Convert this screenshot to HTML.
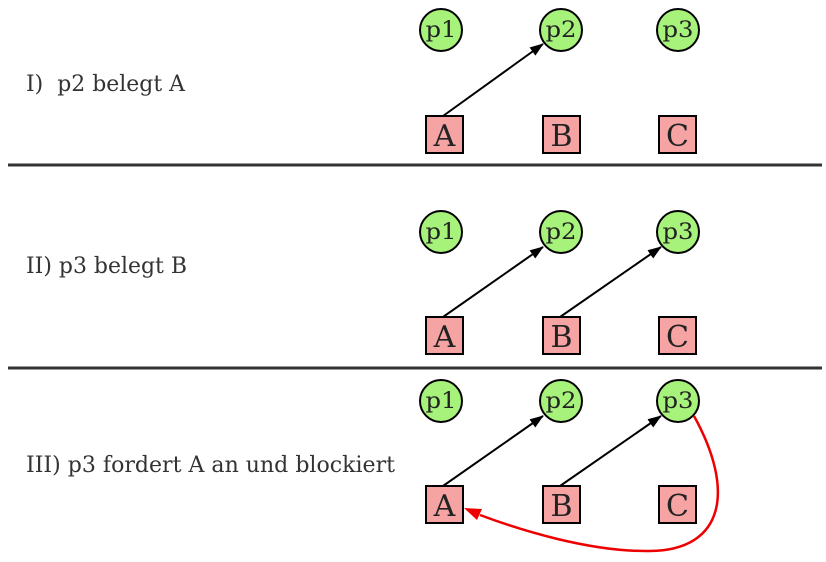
<!DOCTYPE html>
<html><head><style>
html,body{margin:0;padding:0;background:#fff;}
svg{display:block}
text{font-family:"DejaVu Serif","Liberation Serif",serif;}
</style></head><body>
<svg width="826" height="562" viewBox="0 0 826 562" xmlns="http://www.w3.org/2000/svg">
<defs>
<marker id="ab" markerWidth="14" markerHeight="10" refX="13" refY="5" orient="auto" markerUnits="userSpaceOnUse"><path d="M0,0 L14,5 L0,10 Z" fill="#000"/></marker>
<g id="procs">
<circle cx="441" cy="0" r="21" fill="#a6f27a" stroke="#000" stroke-width="2"/>
<circle cx="561" cy="0" r="21" fill="#a6f27a" stroke="#000" stroke-width="2"/>
<circle cx="678" cy="0" r="21" fill="#a6f27a" stroke="#000" stroke-width="2"/>
<text x="441" y="7" font-size="22" text-anchor="middle" fill="#222" textLength="31" lengthAdjust="spacingAndGlyphs">p1</text>
<text x="561" y="7" font-size="22" text-anchor="middle" fill="#222" textLength="31" lengthAdjust="spacingAndGlyphs">p2</text>
<text x="678" y="7" font-size="22" text-anchor="middle" fill="#222" textLength="31" lengthAdjust="spacingAndGlyphs">p3</text>
</g>
<g id="res">
<rect x="426" y="-19" width="37" height="37" fill="#f5a3a3" stroke="#000" stroke-width="2"/>
<rect x="543" y="-19" width="37" height="37" fill="#f5a3a3" stroke="#000" stroke-width="2"/>
<rect x="659" y="-19" width="37" height="37" fill="#f5a3a3" stroke="#000" stroke-width="2"/>
<text x="444.5" y="11" font-size="30" text-anchor="middle" fill="#222">A</text>
<text x="561.5" y="11" font-size="30" text-anchor="middle" fill="#222">B</text>
<text x="677.5" y="11" font-size="30" text-anchor="middle" fill="#222">C</text>
</g>
</defs>
<use href="#procs" y="30"/>
<use href="#res" y="135"/>
<line x1="443" y1="116" x2="543" y2="44" stroke="#000" stroke-width="2" marker-end="url(#ab)"/>
<text x="26" y="91" font-size="22" fill="#333" xml:space="preserve" textLength="159" lengthAdjust="spacingAndGlyphs">I)  p2 belegt A</text>
<line x1="8" y1="165" x2="822" y2="165" stroke="#333" stroke-width="3"/>
<use href="#procs" y="232"/>
<use href="#res" y="336"/>
<line x1="443" y1="317" x2="543" y2="247" stroke="#000" stroke-width="2" marker-end="url(#ab)"/>
<line x1="560" y1="317" x2="661" y2="247" stroke="#000" stroke-width="2" marker-end="url(#ab)"/>
<text x="26" y="273" font-size="22" fill="#333" textLength="161" lengthAdjust="spacingAndGlyphs">II) p3 belegt B</text>
<line x1="8" y1="368" x2="822" y2="368" stroke="#333" stroke-width="3"/>
<use href="#procs" y="401"/>
<use href="#res" y="505"/>
<line x1="443" y1="486" x2="543" y2="416" stroke="#000" stroke-width="2" marker-end="url(#ab)"/>
<line x1="560" y1="486" x2="661" y2="416" stroke="#000" stroke-width="2" marker-end="url(#ab)"/>
<path d="M694,416 C735,490 725,550 650,551 C590,552 520,530 480,515" fill="none" stroke="#e00" stroke-width="2.5"/>
<path d="M464,508 L482,509 L477,520 Z" fill="#e00"/>
<text x="26" y="472" font-size="22" fill="#333" textLength="369" lengthAdjust="spacingAndGlyphs">III) p3 fordert A an und blockiert</text>
</svg>
</body></html>
